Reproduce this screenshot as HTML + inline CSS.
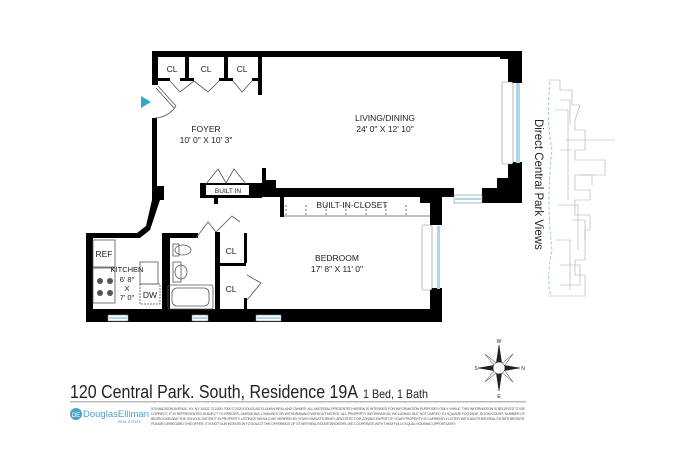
<!DOCTYPE html>
<html><head><meta charset="utf-8"><style>
html,body{margin:0;padding:0;background:#fff;width:700px;height:466px;overflow:hidden}
svg{display:block}
text{font-family:"Liberation Sans",sans-serif}
</style></head><body>
<svg width="700" height="466" viewBox="0 0 700 466" xmlns="http://www.w3.org/2000/svg">
<g fill="#000">
<rect x="152" y="51" width="370" height="6"/>
<rect x="500" y="51" width="22" height="8"/>
<rect x="508" y="57" width="14" height="26"/>
<rect x="508" y="162" width="14" height="18"/>
<rect x="497" y="178" width="25" height="25"/>
<rect x="482" y="188" width="40" height="15"/>
<rect x="152" y="51" width="6" height="34"/>
<rect x="185" y="51" width="4" height="29"/>
<rect x="224" y="51" width="4" height="29"/>
<rect x="258" y="51" width="4" height="44"/>
<rect x="158" y="78" width="12" height="3"/>
<rect x="180" y="78" width="14" height="3"/>
<rect x="219" y="78" width="14" height="3"/>
<rect x="252" y="78" width="8" height="3"/>
<rect x="152" y="118" width="5" height="72"/>
<polygon points="152,186 164,186 164,200 160,200 150,230 140,238 93,238 86,238 86,233 137,233 146,226 152,200"/>
<rect x="86" y="233" width="7" height="89"/>
<rect x="86" y="309" width="356" height="13"/>
<rect x="262" y="168" width="4" height="22"/>
<rect x="262" y="180" width="14" height="12"/>
<rect x="262" y="188" width="192" height="9"/>
<rect x="200" y="183" width="62" height="15"/>
<rect x="214" y="196" width="4" height="8"/>
<rect x="420" y="195" width="22" height="8"/>
<rect x="430" y="197" width="12" height="28"/>
<rect x="430" y="288" width="12" height="24"/>
<rect x="280" y="197" width="4" height="20"/>
<rect x="162" y="233" width="8" height="89"/>
<rect x="162" y="233" width="36" height="5"/>
<rect x="215" y="232" width="5" height="90"/>
<rect x="244" y="233" width="3" height="30"/>
<rect x="218" y="263" width="28" height="3"/>
<rect x="244" y="298" width="3" height="14"/>
</g>
<rect x="206" y="185" width="43" height="10" fill="#fff"/>
<g fill="#fff" stroke="#888" stroke-width="0.6">
<rect x="108" y="315" width="20" height="6"/><rect x="192" y="315" width="16" height="6"/><rect x="256" y="315" width="25" height="6"/>
<rect x="454" y="195" width="28" height="8"/>
<rect x="502" y="82" width="11" height="82" rx="2"/>
<rect x="422" y="225" width="10" height="65" rx="2"/>
</g>
<g fill="#a9d8ef">
<rect x="109" y="317" width="18" height="2"/><rect x="193" y="317" width="14" height="2"/><rect x="257" y="317" width="23" height="2"/>
<rect x="455" y="198" width="26" height="2"/>
<rect x="516" y="83" width="4" height="80"/>
<rect x="437" y="226" width="3" height="63"/>
</g>
<g fill="none" stroke="#555" stroke-width="0.8">
<line x1="158" y1="86" x2="176" y2="106"/><line x1="156" y1="88" x2="174" y2="108"/>
<path d="M176 106 A26 26 0 0 1 155 118"/>
<path d="M170 81 L180 92 L194 81"/><path d="M194 81 L208 92 L219 81"/><path d="M233 81 L242 92 L252 81"/>
<path d="M206 184 L218 169 L226 183 L234 169 L246 184"/>
<path d="M196 238 L208 222 L216 232 L232 216 L240 222"/>
<path d="M247 275 L261 283 L247 300"/>
<line x1="284" y1="216" x2="430" y2="216"/>
<path d="M286 205 L286 216 M306 205 L306 216 M326 205 L326 216 M346 205 L346 216 M366 205 L366 216 M386 205 L386 216 M406 205 L406 216" stroke-dasharray="2 2"/>
<rect x="93" y="240" width="22" height="27"/>
<rect x="93" y="268" width="22" height="35"/>
<rect x="140" y="262" width="18" height="22"/>
<rect x="140" y="284" width="20" height="20" stroke-dasharray="2 1"/>
<rect x="173" y="262" width="8" height="20"/>
<ellipse cx="183" cy="250" rx="8" ry="5"/><rect x="173" y="244" width="6" height="12"/>
<ellipse cx="181" cy="272" rx="6" ry="7"/>
<rect x="168" y="285" width="45" height="24" rx="2"/><rect x="172" y="288" width="37" height="18" rx="5"/>
</g>
<g fill="#555"><circle cx="100" cy="281" r="3"/><circle cx="110" cy="281" r="3"/><circle cx="100" cy="293" r="3"/><circle cx="110" cy="293" r="3"/></g>
<polygon points="141,96 141,108 151,102" fill="#3ba3c7"/>
<g font-size="8.5" fill="#222" text-anchor="middle">
<text x="172" y="72">CL</text><text x="206" y="72">CL</text><text x="242" y="72">CL</text>
<text x="206" y="132">FOYER</text><text x="206" y="143">10' 0" X 10' 3"</text>
<text x="385" y="121">LIVING/DINING</text><text x="385" y="132">24' 0" X 12' 10"</text>
<text x="228" y="193" font-size="6.5">BUILT IN</text>
<text x="352" y="208">BUILT-IN-CLOSET</text>
<text x="337" y="261">BEDROOM</text><text x="337" y="272">17' 8" X 11' 0"</text>
<text x="231" y="254">CL</text><text x="231" y="292">CL</text>
<text x="104" y="257">REF</text>
<text x="127" y="272" font-size="7.5">KITCHEN</text>
<text x="127" y="282" font-size="7.5">6' 8"</text><text x="127" y="291" font-size="7.5">X</text><text x="127" y="300" font-size="7.5">7' 0"</text>
<text x="150" y="298">DW</text>
</g>
<g fill="none" stroke="#aaa" stroke-width="0.6">
<path d="M548 80 L560 80 L560 90 L572 90 L572 105 L580 105 L575 120 L575 130 L585 130 L585 150 L575 150 L575 160 L605 160 L605 175 L575 175 L575 190 L590 190 L590 200 L575 200 L575 215 L590 215 L590 230 L585 230 L585 245 L585 260 L575 260 L575 275 L585 275 L585 296 L548 296"/>
<path d="M565 140 L615 140 M580 175 L592 175 L592 185 M572 220 L585 220 L585 240 M560 265 L580 265 L580 285 L560 285 M560 100 L570 100 L570 125 M560 150 L572 150 M555 110 L568 110 L568 200 M558 205 L578 205 L578 250 M556 240 L570 240 L570 290"/>
</g>
<path d="M550 82 Q546 120 552 150 Q546 200 552 250 Q546 280 551 296" fill="none" stroke="#9cc" stroke-width="1" stroke-dasharray="3 2"/>
<text x="0" y="0" font-size="11.5" fill="#222" transform="translate(535,119) rotate(90)">Direct Central Park Views</text>
<g fill="#fff" stroke="#222" stroke-width="0.5">
<polygon points="485,354 500,366 497,369" /><polygon points="513,354 499,366 502,369"/>
<polygon points="485,382 500,370 497,367"/><polygon points="513,382 499,370 502,367"/>
</g>
<g fill="#222" stroke="#222" stroke-width="0.5">
<polygon points="499,345 502,365 499,368 496,365"/><polygon points="499,391 502,371 499,368 496,371"/>
<polygon points="478,368 496,365 499,368 496,371"/><polygon points="520,368 502,365 499,368 502,371"/>
<circle cx="499" cy="368" r="6" fill="#fff"/>
</g>
<g font-size="5" fill="#222" text-anchor="middle"><text x="499" y="343">W</text><text x="499" y="398">E</text><text x="476" y="370">S</text><text x="523" y="370">N</text></g>
<text x="70" y="398" font-size="18" fill="#222" textLength="288" lengthAdjust="spacingAndGlyphs">120 Central Park. South, Residence 19A</text>
<text x="363" y="398" font-size="12" fill="#222" textLength="65" lengthAdjust="spacingAndGlyphs">1 Bed, 1 Bath</text>
<rect x="70" y="401" width="456" height="1.5" fill="#bbb"/>
<circle cx="76" cy="414" r="6" fill="#4aa3c8"/>
<text x="76" y="417" font-size="6" fill="#fff" text-anchor="middle">DE</text>
<text x="83" y="417" font-size="9.5" fill="#4aa3c8" font-family="Liberation Serif">DouglasElliman</text>
<text x="118" y="423" font-size="3.5" fill="#4aa3c8">REAL ESTATE</text>
<g font-size="3.6" fill="#555">
<text x="151" y="410" textLength="374">575 MADISON AVENUE, NY, NY 10022. 212.891.7000 © 2020 DOUGLAS ELLIMAN REAL AND OWNER. ALL MATERIAL PRESENTED HEREIN IS INTENDED FOR INFORMATION PURPOSES ONLY. WHILE, THIS INFORMATION IS BELIEVED TO BE</text>
<text x="151" y="415" textLength="374">CORRECT, IT IS REPRESENTED SUBJECT TO ERRORS, OMISSIONS, CHANGES OR WITHDRAWALS WITHOUT NOTICE. ALL PROPERTY INFORMATION, INCLUDING, BUT NOT LIMITED TO SQUARE FOOTAGE, ROOM COUNT, NUMBER OF</text>
<text x="151" y="420" textLength="374">BEDROOMS AND THE SCHOOL DISTRICT IN PROPERTY LISTINGS SHOULD BE VERIFIED BY YOUR OWN ATTORNEY, ARCHITECT OR ZONING EXPERT. IF YOUR PROPERTY IS CURRENTLY LISTED WITH ANOTHER REAL ESTATE BROKER,</text>
<text x="151" y="425" textLength="305">PLEASE DISREGARD THIS OFFER. IT IS NOT OUR INTENTION TO SOLICIT THE OFFERINGS OF OTHER REAL ESTATE BROKERS. WE COOPERATE WITH THEM FULLY. EQUAL HOUSING OPPORTUNITY.</text>
</g>
</svg>
</body></html>
